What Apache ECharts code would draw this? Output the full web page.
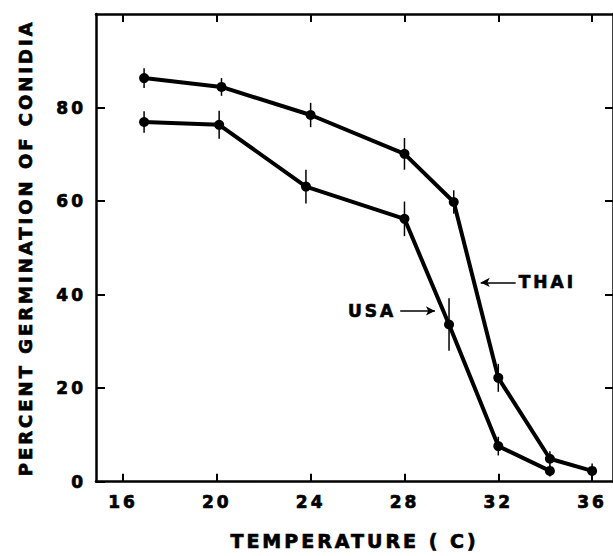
<!DOCTYPE html>
<html>
<head>
<meta charset="utf-8">
<script src="https://cdn.jsdelivr.net/npm/echarts@6/dist/echarts.min.js"></script>
<style>
  html, body { margin: 0; padding: 0; background: #fff; }
  #main { width: 613px; height: 556px; }
  /* the original lettering is widely spaced */
  #main text { letter-spacing: 3px; }
</style>
</head>
<body>
<div id="main"></div>
<script>
// temperature (C) and percent germination
const tempThai = [16.9, 20.2, 24, 28, 30.1, 32, 34.2, 36]
const thai = [86.3, 84.4, 78.4, 70.1, 59.8, 22.2, 4.9, 2.3]
const thaiErr = [2.1, 1.9, 2.6, 3.4, 2.5, 3, 1.6, 1.6]

const tempUsa = [16.9, 20.1, 23.8, 28, 29.9, 32, 34.2]
const usa = [76.9, 76.3, 63.1, 56.2, 33.6, 7.6, 2.3]
const usaErr = [2.3, 3, 3.6, 3.7, 5.6, 2, 1.2]

const xTicks = [16, 20, 24, 28, 32, 36]
const yTicks = [0, 20, 40, 60, 80]

const font = 'DejaVu Sans'
// heavy black lettering like the printed figure
const ink = { color: '#000', fontFamily: font, fontWeight: 'bold', textBorderColor: '#000', textBorderWidth: 0.7 }

let myChart = echarts.init(document.getElementById('main'), null, { renderer: 'svg' })

function pairs(xs, ys) {
  return xs.map((x, i) => [x, ys[i]])
}
function bars(xs, ys, errs) {
  return xs.map((x, i) => [x, ys[i] - errs[i], ys[i] + errs[i]])
}

function errorBar(params, api) {
  let a = api.coord([api.value(0), api.value(1)])
  let b = api.coord([api.value(0), api.value(2)])
  return {
    type: 'line',
    shape: { x1: a[0], y1: a[1], x2: b[0], y2: b[1] },
    style: { stroke: '#000', lineWidth: 1.5 }
  }
}

const axisLine = { show: true, onZero: false, lineStyle: { color: '#000', width: 2.5 } }
const tickStyle = { color: '#000', width: 2 }

let option = {
  animation: false,
  backgroundColor: '#fff',
  grid: { left: 96, right: -3, top: 14, bottom: 69 },
  xAxis: [
    {
      type: 'value',
      position: 'bottom',
      min: 14.85,
      max: 36.89,
      axisLine: axisLine,
      axisTick: { inside: true, length: 8, lineStyle: tickStyle, customValues: xTicks },
      axisLabel: Object.assign({ fontSize: 17, margin: 12, customValues: xTicks }, ink),
      splitLine: { show: false },
      name: 'TEMPERATURE ( C)',
      nameLocation: 'middle',
      nameGap: 50,
      nameTextStyle: Object.assign({ fontSize: 19 }, ink)
    },
    {
      type: 'value',
      position: 'top',
      min: 14.85,
      max: 36.89,
      axisLine: axisLine,
      axisTick: { inside: true, length: 8, lineStyle: tickStyle, customValues: xTicks },
      axisLabel: { show: false },
      splitLine: { show: false }
    }
  ],
  yAxis: [
    {
      type: 'value',
      position: 'left',
      min: 0,
      max: 100,
      axisLine: axisLine,
      axisTick: { inside: true, length: 9, lineStyle: tickStyle, customValues: yTicks },
      axisLabel: Object.assign({ fontSize: 17, margin: 10, customValues: yTicks }, ink),
      splitLine: { show: false },
      name: 'PERCENT GERMINATION OF CONIDIA',
      nameLocation: 'middle',
      nameGap: 62,
      nameTextStyle: Object.assign({ fontSize: 18 }, ink)
    },
    {
      type: 'value',
      position: 'right',
      min: 0,
      max: 100,
      axisLine: axisLine,
      axisTick: { inside: true, length: 8, lineStyle: tickStyle, customValues: [20, 40, 60, 80] },
      axisLabel: { show: false },
      splitLine: { show: false }
    }
  ],
  series: [
    {
      name: 'THAI',
      type: 'line',
      data: pairs(tempThai, thai),
      symbol: 'circle',
      symbolSize: 10,
      itemStyle: { color: '#000' },
      lineStyle: { color: '#000', width: 4 },
      markLine: {
        silent: true,
        symbol: ['none', 'arrow'],
        symbolSize: [7, 9],
        lineStyle: { color: '#000', width: 1.5, type: 'solid' },
        label: Object.assign({ show: true, position: 'start', distance: 3, formatter: 'THAI', fontSize: 17 }, ink),
        data: [[{ coord: [32.74, 42.6] }, { coord: [31.25, 42.6] }]]
      }
    },
    {
      name: 'USA',
      type: 'line',
      data: pairs(tempUsa, usa),
      symbol: 'circle',
      symbolSize: 10,
      itemStyle: { color: '#000' },
      lineStyle: { color: '#000', width: 4 },
      markLine: {
        silent: true,
        symbol: ['none', 'arrow'],
        symbolSize: [7, 9],
        lineStyle: { color: '#000', width: 1.5, type: 'solid' },
        label: Object.assign({ show: true, position: 'start', distance: 4, formatter: 'USA', fontSize: 17 }, ink),
        data: [[{ coord: [27.82, 36.5] }, { coord: [29.3, 36.5] }]]
      }
    },
    {
      type: 'custom',
      renderItem: errorBar,
      data: bars(tempThai, thai, thaiErr),
      z: 3
    },
    {
      type: 'custom',
      renderItem: errorBar,
      data: bars(tempUsa, usa, usaErr),
      z: 3
    }
  ]
}

myChart.setOption(option)
</script>
</body>
</html>
